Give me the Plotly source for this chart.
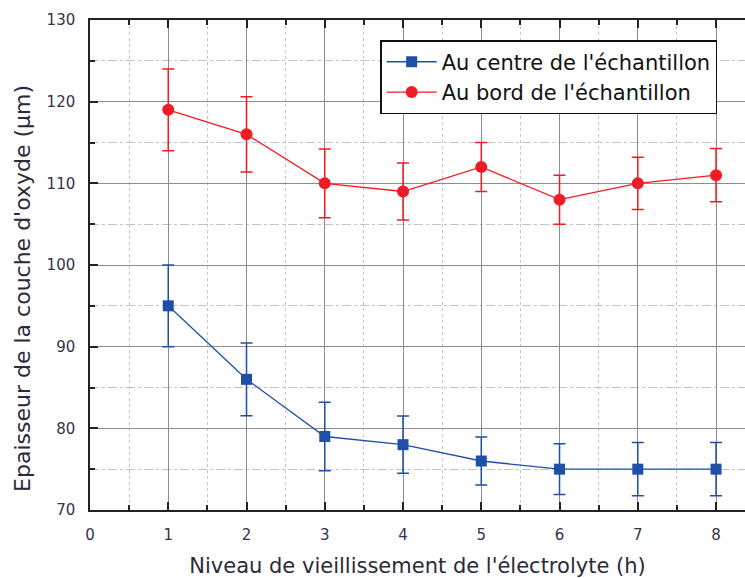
import plotly.graph_objects as go

# Niveau de vieillissement (h)
hours = [1, 2, 3, 4, 5, 6, 7, 8]

# Epaisseur au centre de l'échantillon (µm) et incertitudes
centre = [95, 86, 79, 78, 76, 75, 75, 75]
centre_err = [5.0, 4.45, 4.2, 3.5, 2.95, 3.1, 3.25, 3.25]

# Epaisseur au bord de l'échantillon (µm) et incertitudes
bord = [119, 116, 110, 109, 112, 108, 110, 111]
bord_err = [5.0, 4.6, 4.2, 3.5, 3.0, 3.0, 3.2, 3.25]

x_ticks = [0, 1, 2, 3, 4, 5, 6, 7, 8]
y_ticks = [70, 80, 90, 100, 110, 120, 130]

BLUE = "#1f4fa6"
RED = "#f01c24"
FONT = "DejaVu Sans, Arial, sans-serif"
TXT = "#2a2a3a"

fig = go.Figure()
fig.add_trace(go.Scatter(
    x=hours, y=centre, mode="lines+markers",
    name="Au centre de l'échantillon",
    line=dict(color=BLUE, width=1.3),
    marker=dict(symbol="square", size=11, color=BLUE),
    error_y=dict(type="data", array=centre_err, visible=True,
                 color=BLUE, thickness=1.5, width=6),
))
fig.add_trace(go.Scatter(
    x=hours, y=bord, mode="lines+markers",
    name="Au bord de l'échantillon",
    line=dict(color=RED, width=1.3),
    marker=dict(symbol="circle", size=12, color=RED),
    error_y=dict(type="data", array=bord_err, visible=True,
                 color=RED, thickness=1.5, width=6),
))

axis_common = dict(
    showline=True, linecolor="#222222", linewidth=1.5,
    ticks="inside", ticklen=8, tickwidth=1.5, tickcolor="#222222",
    showgrid=True, gridcolor="#8c8c8c", gridwidth=1.3,
    zeroline=False, automargin=False,
    tickfont=dict(family=FONT, size=15, color="#33334a"),
)

fig.update_xaxes(
    **axis_common,
    range=[0, 8.37], tickvals=x_ticks, mirror="ticks",
    ticklabelstandoff=10,
    title_text="Niveau de vieillissement de l'électrolyte (h)",
    title_font=dict(family=FONT, size=21, color=TXT),
    title_standoff=22,
    minor=dict(dtick=0.5, ticks="inside", ticklen=5, tickcolor="#222222",
               showgrid=True, gridcolor="#c4c4c4", griddash="dot", gridwidth=1.2),
)
fig.update_yaxes(
    **axis_common,
    range=[70, 130], tickvals=y_ticks,
    ticklabelstandoff=10,
    minor=dict(dtick=5, ticks="inside", ticklen=5, tickcolor="#222222",
               showgrid=True, gridcolor="#c4c4c4", griddash="dashdot", gridwidth=1.2),
)

# Vertical axis title, placed slightly below the plot-area centre
fig.add_annotation(
    text="Epaisseur de la couche d'oxyde (µm)",
    xref="paper", yref="paper", x=-0.104, y=0.453,
    xanchor="center", yanchor="middle", textangle=-90,
    showarrow=False, font=dict(family=FONT, size=22, color=TXT),
)

fig.update_layout(
    width=745, height=578,
    margin=dict(l=90, r=0, t=20, b=68, autoexpand=False),
    plot_bgcolor="white", paper_bgcolor="white",
    font=dict(family=FONT),
    legend=dict(
        x=0.443, y=0.959, xanchor="left", yanchor="top",
        bgcolor="white", bordercolor="#111111", borderwidth=1.5,
        font=dict(family=FONT, size=21, color="#111111"),
        tracegroupgap=0, itemwidth=50,
    ),
    showlegend=True,
)

fig.write_html("out.html")
